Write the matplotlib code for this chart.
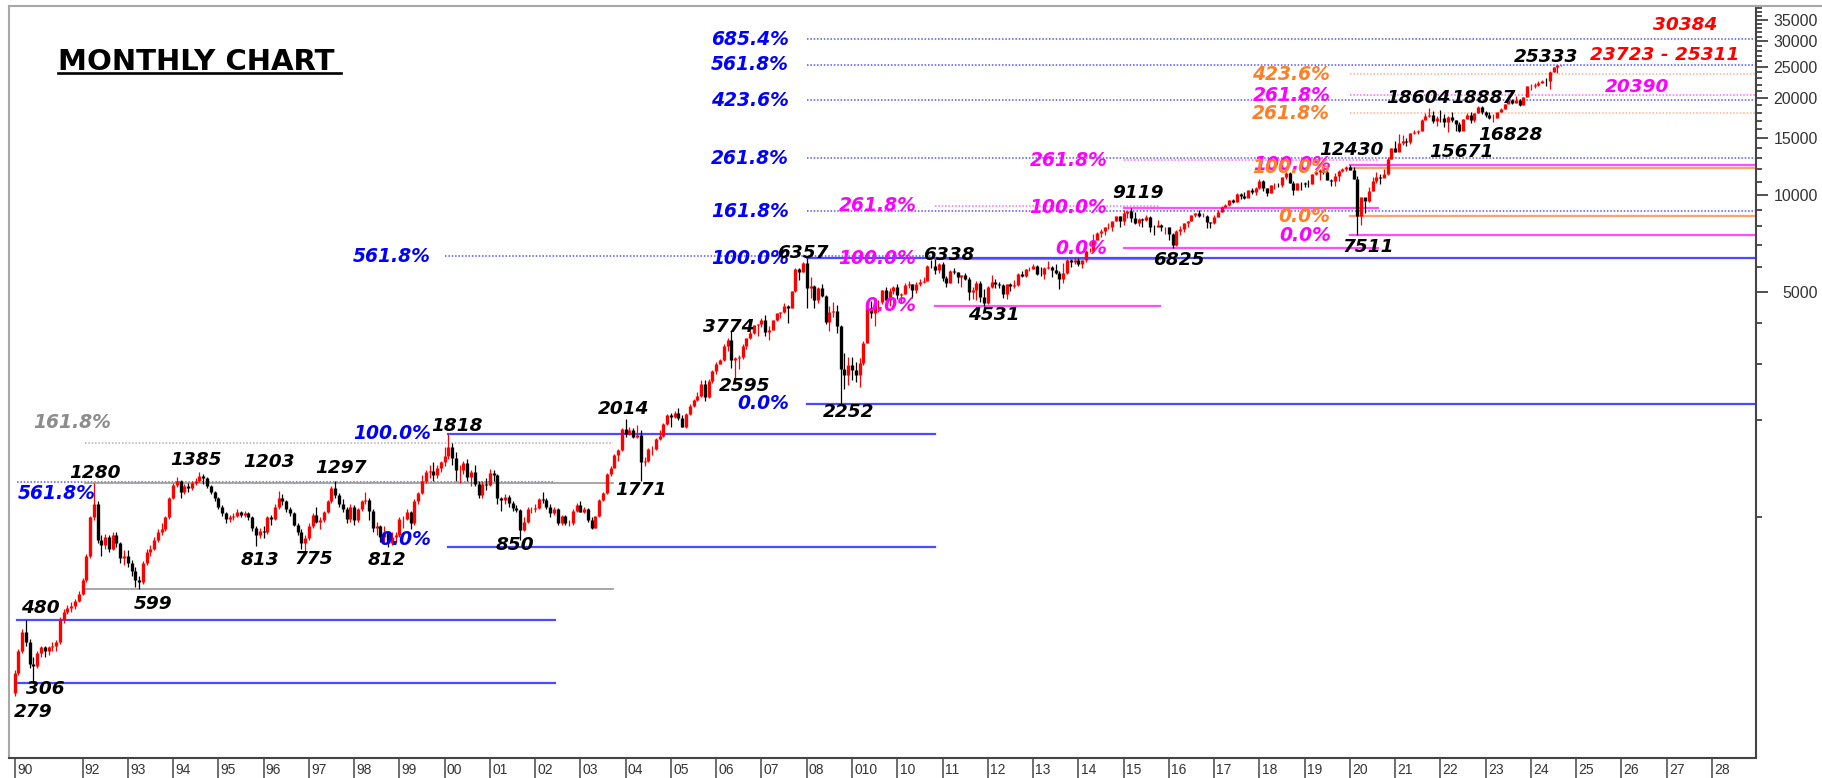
import numpy as np
import matplotlib
matplotlib.use("Agg")
import matplotlib.pyplot as plt
from matplotlib.lines import Line2D
from matplotlib.ticker import FixedLocator, NullFormatter, FuncFormatter
from matplotlib.transforms import blended_transform_factory

# monthly bars, Jul 1990 .. Sep 2024 (open = previous close)
first_open = 285
bar_close = [
    330, 385, 440, 410, 350, 345,                                          # 1990 Jul-Dec
    380, 395, 385, 395, 400, 410, 480, 510, 525, 530, 550, 580,            # 1991
    640, 760, 1000, 1100, 850, 820, 870, 800, 880, 830, 750, 760,          # 1992
    720, 680, 640, 630, 720, 780, 800, 850, 900, 920, 1000, 1150,          # 1993
    1260, 1300, 1200, 1250, 1230, 1280, 1300, 1340, 1320, 1250, 1200, 1150,
    1080, 1030, 990, 1000, 1010, 1040, 1020, 1030, 1000, 930, 880, 910,    # 1995
    900, 1000, 990, 1080, 1150, 1120, 1060, 1030, 950, 900, 830, 860,
    940, 1020, 970, 980, 1040, 1120, 1230, 1170, 1100, 1060, 990, 1080,    # 1997
    980, 1060, 1120, 1130, 1050, 930, 940, 870, 900, 830, 870, 880,
    990, 990, 1040, 960, 1120, 1190, 1300, 1380, 1390, 1350, 1420, 1480,   # 1999
    1550, 1650, 1530, 1400, 1400, 1470, 1330, 1380, 1270, 1170, 1270, 1260,
    1370, 1350, 1150, 1130, 1160, 1110, 1070, 1055, 915, 970, 1060, 1060,  # 2001
    1070, 1140, 1130, 1080, 1030, 1060, 960, 1010, 960, 960, 1050, 1090,
    1040, 1060, 980, 930, 1010, 1130, 1190, 1360, 1420, 1560, 1620, 1880,  # 2003
    1810, 1870, 1770, 1800, 1480, 1500, 1630, 1630, 1750, 1790, 1950, 2080,
    2050, 2100, 2030, 1900, 2090, 2220, 2310, 2380, 2600, 2370, 2650, 2840,  # 2005
    3000, 3070, 3400, 3560, 3070, 3130, 3140, 3410, 3590, 3740, 3950, 3970,
    4080, 3750, 3820, 4090, 4300, 4320, 4530, 4460, 5020, 5900, 5760, 6140,  # 2007
    5140, 5220, 4730, 5160, 4870, 4040, 4330, 4360, 3920, 2890, 2760, 2960,
    2870, 2760, 3020, 3470, 4450, 4290, 4640, 4660, 5080, 4710, 5030, 5200,  # 2009
    4880, 4920, 5250, 5280, 5090, 5310, 5370, 5400, 6030, 6020, 5860, 6130,
    5510, 5330, 5830, 5750, 5560, 5650, 5480, 5000, 5080, 5330, 4830, 4620,  # 2011
    5200, 5390, 5300, 5250, 4920, 5280, 5230, 5260, 5700, 5620, 5880, 5910,
    6030, 5690, 5680, 5930, 5990, 5840, 5740, 5470, 5740, 6300, 6180, 6300,  # 2013
    6090, 6280, 6700, 6700, 7230, 7610, 7720, 7950, 7960, 8320, 8590, 8280,
    8810, 8900, 8490, 8180, 8430, 8370, 8530, 7970, 7950, 8070, 7940, 7950,  # 2015
    7560, 6990, 7740, 7850, 8160, 8290, 8640, 8790, 8610, 8630, 8220, 8190,
    8560, 8880, 9170, 9300, 9620, 9520, 10080, 9920, 9790, 10340, 10230, 10530,  # 2017
    11030, 10490, 10110, 10740, 10740, 10710, 11360, 11680, 10930, 10390, 10880, 10860,
    10830, 10790, 11620, 11750, 11920, 11790, 11120, 11020, 11470, 11880, 12060, 12170,  # 2019
    11960, 11200, 8597, 9860, 9580, 10300, 11070, 11390, 11250, 11640, 12970, 13980,
    13630, 14530, 14690, 14630, 15580, 15720, 15760, 17130, 17620, 17670, 16980, 17350,  # 2021
    17340, 16790, 17460, 17100, 16580, 15780, 17160, 17760, 17090, 18010, 18760, 18110,
    17660, 17300, 17360, 18070, 18530, 19190, 19750, 19250, 19640, 19080, 20130, 21730,  # 2023
    21730, 21980, 22330, 22600, 22530, 24010, 24950, 25240, 25280,         # 2024 Jan-Sep
]
bar_high = [
    335, 390, 450, 480, 420, 370,
    385, 400, 400, 400, 410, 415, 490, 520, 535, 545, 560, 590,
    650, 770, 1010, 1280, 1120, 880, 890, 880, 900, 900, 840, 790,
    790, 740, 700, 660, 730, 800, 820, 870, 920, 960, 1010, 1160,
    1280, 1330, 1310, 1270, 1280, 1300, 1320, 1385, 1360, 1330, 1260, 1210,
    1160, 1090, 1040, 1020, 1030, 1060, 1050, 1050, 1040, 1010, 940, 930,
    940, 1010, 1020, 1100, 1203, 1180, 1130, 1080, 1040, 960, 920, 880,
    960, 1030, 1080, 1000, 1050, 1130, 1250, 1297, 1190, 1140, 1080, 1100,
    1090, 1070, 1130, 1200, 1150, 1060, 970, 950, 940, 910, 900, 900,
    1000, 1010, 1060, 1050, 1140, 1200, 1350, 1400, 1450, 1480, 1450, 1500,
    1650, 1818, 1700, 1600, 1450, 1500, 1520, 1400, 1450, 1300, 1300, 1320,
    1410, 1400, 1360, 1160, 1180, 1170, 1120, 1090, 1060, 1000, 1080, 1080,
    1100, 1150, 1200, 1150, 1100, 1080, 1070, 1020, 1020, 980, 1060, 1110,
    1120, 1080, 1070, 1000, 1010, 1140, 1200, 1370, 1440, 1570, 1630, 1890,
    2014, 1900, 1890, 1930, 1860, 1540, 1640, 1670, 1760, 1860, 1960, 2090,
    2110, 2140, 2180, 2080, 2100, 2240, 2330, 2450, 2670, 2660, 2690, 2860,
    3030, 3110, 3440, 3600, 3774, 3140, 3200, 3450, 3600, 3780, 3960, 3990,
    4160, 4240, 3920, 4100, 4300, 4330, 4620, 4560, 5050, 5920, 5950, 6190,
    6357, 5550, 5270, 5170, 5300, 4910, 4540, 4650, 4560, 3950, 3240, 3150,
    3150, 3030, 3130, 3520, 4510, 4690, 4670, 4740, 5090, 5180, 5140, 5220,
    5310, 4950, 5330, 5400, 5280, 5370, 5480, 5550, 6070, 6280, 6338, 6150,
    6180, 5600, 5870, 5940, 5780, 5660, 5740, 5550, 5170, 5400, 5400, 5100,
    5220, 5630, 5500, 5380, 5280, 5290, 5350, 5450, 5740, 5820, 5890, 5970,
    6110, 6050, 5970, 5960, 6230, 6010, 6090, 5810, 6140, 6310, 6340, 6420,
    6360, 6290, 6730, 6870, 7560, 7700, 7840, 7970, 8180, 8330, 8620, 8630,
    8990, 8940, 9119, 8850, 8490, 8470, 8650, 8620, 8060, 8340, 8120, 7980,
    7970, 7600, 7780, 7990, 8160, 8310, 8680, 8820, 8970, 8810, 8670, 8270,
    8670, 8980, 9220, 9370, 9650, 9710, 10110, 10140, 10180, 10380, 10490, 10550,
    11170, 11120, 10530, 10760, 10930, 10890, 11370, 11760, 11750, 11030, 10920, 10990,
    10990, 11120, 11630, 11860, 12040, 12100, 11980, 11180, 11700, 11950, 12160, 12290,
    12430, 12250, 11430, 9890, 9600, 10550, 11340, 11800, 11620, 12030, 13150, 14020,
    14750, 15430, 15340, 15040, 15610, 15920, 15960, 17150, 17950, 18604, 18210, 17640,
    18350, 17790, 17560, 18110, 17130, 16790, 17170, 17990, 18100, 18020, 18820, 18887,
    18250, 18130, 17800, 18090, 18660, 19200, 19990, 19800, 20220, 19850, 20160, 21800,
    22120, 22300, 22530, 22780, 23110, 24170, 24999, 25270, 25333,
]
bar_low = [
    279, 325, 380, 400, 340, 306,
    340, 370, 370, 375, 385, 385, 405, 470, 500, 510, 520, 545,
    575, 630, 750, 980, 830, 760, 800, 780, 790, 810, 720, 710,
    700, 660, 610, 599, 620, 710, 760, 790, 840, 880, 910, 990,
    1140, 1240, 1150, 1180, 1200, 1220, 1260, 1290, 1270, 1230, 1180, 1120,
    1060, 1010, 960, 970, 980, 1000, 1000, 1000, 980, 910, 813, 860,
    860, 890, 950, 980, 1060, 1090, 1040, 1010, 940, 880, 800, 775,
    850, 930, 960, 920, 970, 1030, 1110, 1150, 1080, 1040, 960, 970,
    950, 970, 1050, 1100, 980, 900, 880, 840, 840, 812, 820, 830,
    870, 930, 980, 920, 950, 1100, 1180, 1280, 1320, 1300, 1320, 1380,
    1440, 1520, 1450, 1300, 1280, 1360, 1300, 1250, 1250, 1150, 1150, 1220,
    1250, 1300, 1100, 1050, 1100, 1080, 1050, 1040, 850, 910, 960, 1030,
    1040, 1060, 1110, 1060, 1000, 1020, 950, 950, 950, 940, 950, 1040,
    1040, 1030, 970, 920, 930, 1000, 1120, 1180, 1340, 1420, 1500, 1610,
    1780, 1800, 1760, 1760, 1292, 1440, 1480, 1560, 1620, 1740, 1780, 1940,
    1900, 2040, 2000, 1900, 1890, 2080, 2200, 2300, 2370, 2300, 2350, 2620,
    2780, 2980, 3060, 3290, 2900, 2595, 2880, 3100, 3340, 3570, 3710, 3660,
    3900, 3650, 3550, 3820, 4060, 4150, 4310, 4000, 4460, 5000, 5450, 5750,
    4450, 4800, 4470, 4630, 4820, 3990, 3790, 4170, 3720, 2252, 2500, 2570,
    2660, 2630, 2540, 2970, 3470, 4140, 3920, 4350, 4580, 4690, 4540, 4940,
    4770, 4670, 4930, 5160, 4790, 4960, 5230, 5350, 5400, 5940, 5690, 5720,
    5420, 5180, 5350, 5690, 5330, 5200, 5450, 4720, 4760, 4730, 4640, 4531,
    4590, 5160, 5140, 5150, 4790, 4770, 5030, 5160, 5220, 5550, 5550, 5820,
    5880, 5660, 5600, 5480, 5910, 5570, 5680, 5120, 5320, 5700, 5970, 6130,
    6030, 5930, 6210, 6650, 6640, 7240, 7420, 7540, 7840, 7720, 8290, 7960,
    8070, 8470, 8270, 8140, 7990, 7940, 8320, 7670, 7540, 7930, 7710, 7550,
    7240, 6825, 6960, 7520, 7680, 7930, 8280, 8520, 8560, 8550, 7920, 7890,
    8130, 8540, 8860, 9080, 9270, 9450, 9540, 9690, 9690, 9830, 10090, 10030,
    10400, 10280, 9950, 10110, 10420, 10560, 10600, 11230, 10870, 10000, 10340, 10330,
    10580, 10590, 10820, 11550, 11110, 11630, 11110, 10640, 10670, 11090, 11800, 11830,
    11930, 11180, 7511, 8060, 8810, 9540, 10300, 10880, 10790, 11350, 11560, 12960,
    13600, 13660, 14260, 14150, 14420, 15450, 15510, 15830, 17060, 17450, 16780, 16410,
    16840, 16200, 15700, 16820, 15740, 15671, 15860, 17150, 16750, 16860, 17960, 17770,
    17400, 17260, 16828, 17310, 18040, 18460, 19230, 19220, 19260, 18840, 19060, 20180,
    21140, 21530, 21710, 22300, 21820, 21280, 23990, 23890, 25200,
]

year_ticks = [1990.5] + list(range(1992, 2029))
year_labels = ['90', '92', '93', '94', '95', '96', '97', '98', '99', '00', '01',
               '02', '03', '04', '05', '06', '07', '08', '010', '10', '11', '12',
               '13', '14', '15', '16', '17', '18', '19', '20', '21', '22', '23',
               '24', '25', '26', '27', '28']
price_ticks = [5000, 10000, 15000, 20000, 25000, 30000, 35000]

# fibonacci swings: (0% price, 100% price)
fib_a = (306, 480)
fib_gray = (599, 1280)
fib_b = (812, 1818)
fib_c = (2252, 6357)
fib_d = (4531, 6338)
fib_e = (6825, 9119)
fib_f = (8597, 12168)
fib_g = (7511, 12430)

# swing labels: text, year, price
swing_labels = [
    ("279", 1990.91, 249), ("306", 1991.18, 294), ("480", 1991.06, 523),
    ("1280", 1992.28, 1372), ("599", 1993.56, 538), ("1385", 1994.51, 1506),
    ("1203", 1996.12, 1485), ("813", 1995.93, 737), ("775", 1997.12, 742),
    ("1297", 1997.72, 1423), ("812", 1998.72, 735), ("1818", 2000.28, 1920),
    ("850", 2001.56, 821), ("2014", 2003.95, 2168), ("1771", 2004.34, 1216),
    ("3774", 2006.27, 3894), ("2595", 2006.62, 2560), ("6357", 2007.92, 6606),
    ("2252", 2008.92, 2122), ("6338", 2011.15, 6511), ("4531", 2012.14, 4243),
    ("9119", 2015.32, 10140), ("6825", 2016.21, 6286), ("12430", 2020.03, 13786),
    ("7511", 2020.41, 6893), ("18604", 2021.51, 19995), ("18887", 2022.95, 19995),
    ("15671", 2022.46, 13591), ("16828", 2023.54, 15346), ("25333", 2024.34, 26797),
]

BLUE, MAG, ORG, GRAY, RED = '#0000ff', '#ff00ff', '#ff7f27', '#8c8c8c', '#ff0000'
XMIN, XMAX = 1990.376, 2028.972

plt.rcParams['font.family'] = ['DejaVu Sans']

fig = plt.figure(figsize=(18.22, 7.78), dpi=100)
ax = fig.add_axes([9 / 1822, 20.5 / 778, 1747 / 1822, 751.5 / 778])
ax.set_yscale('log')
ax.set_xlim(XMIN, XMAX)
ax.set_ylim(179.9, 38570)


def fib(sw, r):
    return sw[0] + r * (sw[1] - sw[0])


def hline(y, x0, x1, color, style='solid', lw=1.6, z=1):
    if style == 'dotted':
        ax.plot([x0, x1], [y, y], color=color, lw=1.1, ls=(0, (1, 1.2)), zorder=z)
    else:
        ax.plot([x0, x1], [y, y], color=color, lw=lw, zorder=z)


def tag(text, x, y, color, ha='right', size=13.5):
    ax.text(x, y, text, color=color, ha=ha, va='center', fontsize=size,
            fontweight='bold', fontstyle='italic', zorder=6)


# fib set A (306 -> 480)
hline(fib_a[0], 1990.56, 2002.44, '#4a4aff')
hline(fib_a[1], 1990.56, 2002.44, '#4a4aff')
hline(fib(fib_a, 5.618), 1990.56, 2002.44, '#5555ff', 'dotted')
tag("561.8%", 1990.58, 1189, BLUE, ha='left')

# gray set (599 -> 1280)
hline(fib_gray[0], 1992.06, 2003.72, '#a0a0a0', lw=1.3)
hline(fib_gray[1], 1992.06, 2003.72, '#a0a0a0', lw=1.3)
hline(fib(fib_gray, 1.618), 1992.06, 2003.72, '#b0b0b0', 'dotted')
tag("161.8%", 1990.91, 1975, GRAY, ha='left')

# fib set B (812 -> 1818)
hline(fib(fib_b, 5.618), 2000.0, 2010.84, '#5555ff', 'dotted')
hline(fib_b[0], 2000.08, 2010.84, '#4a4aff')
hline(fib_b[1], 2000.08, 2010.84, '#4a4aff')
tag("0.0%", 1999.70, 851, BLUE)
tag("100.0%", 1999.70, fib_b[1], BLUE)
tag("561.8%", 1999.70, fib(fib_b, 5.618), BLUE)

# fib set D (4531 -> 6338)
hline(fib_d[0], 2010.83, 2015.81, '#ff4dff')
hline(fib_d[1], 2010.83, 2015.81, '#ff4dff')
hline(fib(fib_d, 2.618), 2010.83, 2015.81, '#ff66ff', 'dotted')
tag("0.0%", 2010.42, fib_d[0], MAG)
tag("100.0%", 2010.42, fib_d[1], MAG)
tag("261.8%", 2010.42, fib(fib_d, 2.618), MAG)

# fib set C (2252 -> 6357)
for r in [1.618, 2.618, 4.236, 5.618, 6.854]:
    hline(fib(fib_c, r), 2008.0, XMAX, '#5555ff', 'dotted')
    tag(f"{r * 100:.1f}%", 2007.61, fib(fib_c, r), BLUE)
hline(fib_c[0], 2008.0, XMAX, '#4a4aff', z=2)
hline(fib_c[1], 2008.0, XMAX, '#4a4aff', z=2)
tag("0.0%", 2007.61, fib_c[0], BLUE)
tag("100.0%", 2007.61, fib_c[1], BLUE)

# fib set E (6825 -> 9119)
hline(fib_e[0], 2015.0, 2020.63, '#ff4dff')
hline(fib_e[1], 2015.0, 2020.63, '#ff4dff')
hline(fib(fib_e, 2.618), 2015.0, 2020.63, '#ff66ff', 'dotted')
tag("0.0%", 2014.64, fib_e[0], MAG)
tag("100.0%", 2014.64, fib_e[1], MAG)
tag("261.8%", 2014.64, fib(fib_e, 2.618), MAG)

# fib set G (7511 -> 12430), magenta
hline(fib_g[0], 2020.0, XMAX, '#ff4dff')
hline(fib_g[1], 2020.0, XMAX, '#ff4dff')
hline(fib(fib_g, 2.618), 2020.0, XMAX, '#ff66ff', 'dotted')
tag("0.0%", 2019.58, fib_g[0], MAG)
tag("100.0%", 2019.58, fib_g[1], MAG)
tag("261.8%", 2019.58, fib(fib_g, 2.618), MAG)

# fib set F (8597 -> 12168), orange
hline(fib_f[0], 2020.0, XMAX, '#ffa070')
hline(fib_f[1], 2020.0, XMAX, '#ffa070')
hline(fib(fib_f, 2.618), 2020.0, XMAX, '#ffb090', 'dotted')
hline(fib(fib_f, 4.236), 2020.0, XMAX, '#ffb090', 'dotted')
tag("0.0%", 2019.56, fib_f[0], ORG)
tag("100.0%", 2019.56, fib_f[1], ORG)
tag("261.8%", 2019.56, fib(fib_f, 2.618), ORG)
tag("423.6%", 2019.56, fib(fib_f, 4.236), ORG)

# candles
c = np.array(bar_close, dtype=float)
h = np.array(bar_high, dtype=float)
lo = np.array(bar_low, dtype=float)
o = np.concatenate([[first_open], c[:-1]])
x = 1990.5 + np.arange(len(c)) / 12.0
cols = np.where(c >= o, '#ff0000', '#000000')
ax.vlines(x, lo, h, colors=cols, lw=0.9, zorder=3)
ax.vlines(x, np.minimum(o, c), np.maximum(o, c), colors=cols, lw=2.4, zorder=3)

# swing labels
for t, xx, yy in swing_labels:
    tag(t, xx, yy, 'black', ha='center', size=13.3)

# targets on the right
tag("30384", 2027.40, 33660, RED, ha='center', size=13.3)
tag("23723 - 25311", 2026.95, 27180, RED, ha='center', size=13.3)
tag("20390", 2026.35, 21620, MAG, ha='center', size=13.3)

# title
ax.text(0.028, 0.9142, "MONTHLY CHART", transform=ax.transAxes, fontsize=21,
        fontweight='bold', ha='left', va='baseline', color='black')
ax.add_line(Line2D([0.028, 0.1900], [0.9105, 0.9105], transform=ax.transAxes,
                   color='black', lw=1.9))

# price axis on the right
ax.yaxis.tick_right()
ax.yaxis.set_major_locator(FixedLocator(price_ticks))
ax.yaxis.set_major_formatter(FuncFormatter(lambda v, p: f"{int(v)}"))
ax.yaxis.set_minor_locator(FixedLocator([v for v in range(1000, 39000, 1000)
                                         if v not in price_ticks]))
ax.yaxis.set_minor_formatter(NullFormatter())
ax.tick_params(axis='y', which='major', length=8.6, width=1.2, color='#333333',
               pad=36, labelsize=11.5, labelcolor='#333333')
ax.tick_params(axis='y', which='minor', length=4.3, width=1.2, color='#333333')
for lab in ax.get_yticklabels():
    lab.set_ha('right')
    lab.set_fontfamily('Liberation Sans')

# time axis
ax.set_xticks(year_ticks)
ax.set_xticklabels([])
ax.tick_params(axis='x', which='both', length=15, width=1.2, color='#555555',
               direction='out')
tr = blended_transform_factory(ax.transData, ax.transAxes)
for xt, lb in zip(year_ticks, year_labels):
    ax.text(xt + 0.05, -0.0166, lb, transform=tr, ha='left', va='center',
            fontsize=10, family='Liberation Sans', color='#333333')

for side, col in [('left', '#a8a8a8'), ('top', '#a8a8a8'),
                  ('right', '#444444'), ('bottom', '#444444')]:
    ax.spines[side].set_color(col)
    ax.spines[side].set_linewidth(1.5)
fig.add_artist(Line2D([1756 / 1822, 1.0], [1 - 6 / 778, 1 - 6 / 778],
                      transform=fig.transFigure, color='#a8a8a8', lw=1.5))

fig.savefig("out.png", dpi=100)
